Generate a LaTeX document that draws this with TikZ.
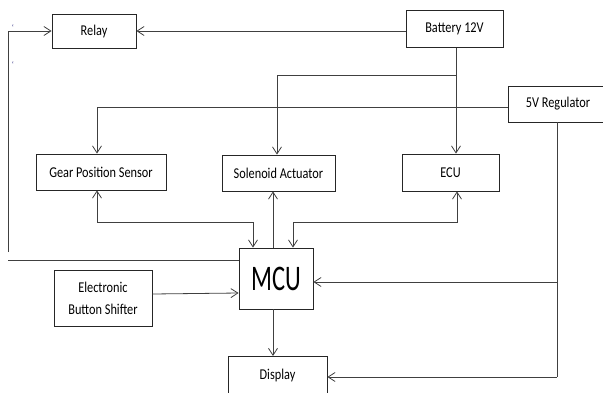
\documentclass[tikz,border=0pt]{standalone}
\usepackage{fontspec}
\setmainfont[FakeStretch=0.82]{Carlito}
\newfontfamily\mcufont[FakeStretch=0.68]{Carlito}
\usetikzlibrary{arrows.meta}
\tikzset{
  box/.style={draw=black!85, line width=0.8pt, fill=white, inner sep=0pt, font=\fontsize{15}{18}\selectfont, align=center},
  wire/.style={draw=black!75, line width=0.8pt},
  arr/.style={wire, -{Straight Barb[length=7pt,width=9pt]}},
  barr/.style={wire, {Straight Barb[length=7pt,width=9pt]}-{Straight Barb[length=7pt,width=9pt]}},
  tick/.style={inner sep=0pt, font=\fontsize{8}{8}\selectfont, text=blue!40!black}
}
\begin{document}
\begin{tikzpicture}[x=1pt,y=-1pt]
\useasboundingbox (0,0) rectangle (603,392);
\clip (0,0) rectangle (603,392);
% boxes
\node[box, minimum width=84pt, minimum height=34pt] (rel) at (94,31) {Relay};
\node[box, minimum width=97pt, minimum height=37pt] (bat) at (454.5,29) {Battery 12V};
\node[box, minimum width=100pt, minimum height=36pt] (reg) at (558,104) {5V Regulator};
\node[box, minimum width=130pt, minimum height=36pt] (gps) at (101,172) {Gear Position Sensor};
\node[box, minimum width=113pt, minimum height=36pt] (sol) at (278.5,173) {Solenoid Actuator};
\node[box, minimum width=97pt, minimum height=37pt] (ecu) at (450.5,172.5) {ECU};
\node[box, minimum width=74pt, minimum height=61pt, font=\mcufont\fontsize{36}{38}\selectfont] (mcu) at (276,278.5) {MCU};
\node[box, minimum width=98pt, minimum height=56pt, font=\fontsize{15}{22}\selectfont] (ebs) at (103,298) {Electronic\\Button Shifter};
\node[box, minimum width=99pt, minimum height=46pt, anchor=north] (disp) at (277.5,356) {\raisebox{10pt}{Display}};
% ticks
\node[tick] (t1) at (13,28) {`};
\node[tick] (t2) at (13,65) {`};
% coordinates
\coordinate (lt) at (8,31);
\coordinate (lb) at (8,252);
\coordinate (lm) at (8,260);
\coordinate (bj) at (456,75);
\coordinate (sj) at (277,75);
\coordinate (gj) at (97,107);
\coordinate (g1) at (97,222);
\coordinate (g2) at (253,222);
\coordinate (e1) at (293,222);
\coordinate (e2) at (457,222);
\coordinate (r1) at (557,282);
\coordinate (r2) at (557,377);
% connectors
\draw[arr] (bat.west |- rel.east) -- (rel.east);
\draw[wire] (lb) -- (lt);
\draw[arr] (lt) -- (rel.west);
\draw[wire] (lm) -- (mcu.west |- lm);
\draw[arr] (bat.south -| bj) -- (ecu.north -| bj);
\draw[arr] (bj) -- (sj) -- (sol.north -| sj);
\draw[arr] (reg.west |- gj) -- (gj) -- (gps.north -| gj);
\draw[barr] (mcu.north -| g2) -- (g2) -- (g1) -- (gps.south -| g1);
\draw[arr] (mcu.north -| 273,0) -- (sol.south -| 273,0);
\draw[barr] (mcu.north -| e1) -- (e1) -- (e2) -- (ecu.south -| e2);
\draw[arr] (mcu.south -| 273,0) -- (disp.north -| 273,0);
\draw[wire] (reg.south -| r1) -- (r2);
\draw[arr] (r1) -- (mcu.east |- r1);
\draw[arr] (r2) -- (disp.east |- r2);
\draw[arr] (ebs.east |- 0,294) -- (mcu.west |- 0,293);
\end{tikzpicture}
\end{document}
